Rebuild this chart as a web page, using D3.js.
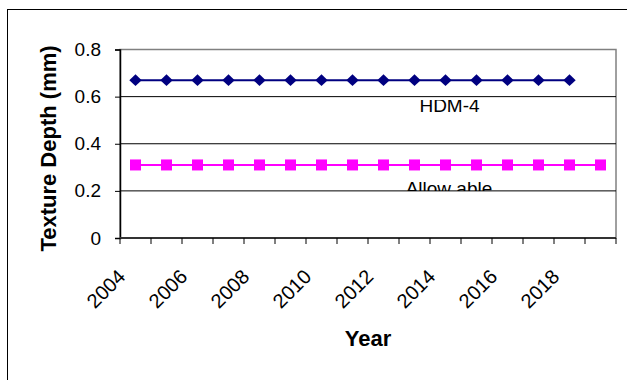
<!DOCTYPE html>
<html>
<head>
<meta charset="utf-8">
<script src="https://cdn.jsdelivr.net/npm/d3@7/dist/d3.min.js"></script>
<style>
  html, body { margin: 0; padding: 0; background: #fff; }
  svg { display: block; }
  text { font-family: Arial, "Liberation Sans", sans-serif; fill: #000; }
</style>
</head>
<body>
<svg id="chart" width="627" height="380"></svg>
<script>
// Years on the category axis
const years = [2004, 2005, 2006, 2007, 2008, 2009, 2010, 2011,
               2012, 2013, 2014, 2015, 2016, 2017, 2018, 2019];
// Texture depth (mm) predicted by HDM-4, 2004–2018
const hdm4 = [0.67, 0.67, 0.67, 0.67, 0.67, 0.67, 0.67, 0.67,
              0.67, 0.67, 0.67, 0.67, 0.67, 0.67, 0.67];
// Allowable texture depth (mm), 2004–2019
const allowable = [0.31, 0.31, 0.31, 0.31, 0.31, 0.31, 0.31, 0.31,
                   0.31, 0.31, 0.31, 0.31, 0.31, 0.31, 0.31, 0.31];
// Axis ticks and labelled years
const yTicks = [0, 0.2, 0.4, 0.6, 0.8];
const yearLabels = [2004, 2006, 2008, 2010, 2012, 2014, 2016, 2018];

const svg = d3.select("#chart");

// Outer chart frame (runs off the right and bottom edges)
svg.append("rect")
  .attr("x", 7.5).attr("y", 9.5)
  .attr("width", 700).attr("height", 450)
  .attr("fill", "#fff").attr("stroke", "#000").attr("stroke-width", 1);

const plot = { left: 120, right: 616, top: 49.5, bottom: 238 };

const x = d3.scaleBand()
  .domain(years)
  .range([plot.left, plot.right])
  .paddingInner(0).paddingOuter(0);

const y = d3.scaleLinear()
  .domain([0, 0.8])
  .range([plot.bottom, plot.top]);

const cx = d => x(d) + x.bandwidth() / 2;

// Plot area background and grey border
svg.append("rect")
  .attr("x", plot.left).attr("y", plot.top)
  .attr("width", plot.right - plot.left).attr("height", plot.bottom - plot.top)
  .attr("fill", "#fff").attr("stroke", "#808080").attr("stroke-width", 1.5);

// Horizontal gridlines
svg.append("g")
  .selectAll("line")
  .data(yTicks.filter(t => t > 0))
  .join("line")
  .attr("x1", plot.left).attr("x2", plot.right)
  .attr("y1", d => y(d)).attr("y2", d => y(d))
  .attr("stroke", d => d === 0.8 ? "#808080" : "#000")
  .attr("stroke-width", 1);

// Y axis
const yAxis = svg.append("g")
  .attr("transform", `translate(${plot.left},0)`)
  .call(d3.axisLeft(y).tickValues(yTicks).tickSize(5).tickPadding(14)
        .tickFormat(d => d === 0 ? "0" : d3.format(".1f")(d)));
yAxis.select(".domain").attr("stroke", "#000").attr("stroke-width", 1.5);
yAxis.selectAll(".tick line").attr("stroke", "#000");
yAxis.selectAll(".tick text")
  .attr("font-size", 19).attr("font-family", "Arial, 'Liberation Sans', sans-serif")
  .attr("fill", "#000");

// X axis line and category boundary ticks
const xg = svg.append("g");
xg.append("line")
  .attr("x1", plot.left).attr("x2", plot.right)
  .attr("y1", plot.bottom).attr("y2", plot.bottom)
  .attr("stroke", "#333").attr("stroke-width", 2);
const boundaries = years.map(d => x(d)).concat([x(years[years.length - 1]) + x.bandwidth()]);
xg.selectAll("line.tk")
  .data(boundaries)
  .join("line").attr("class", "tk")
  .attr("x1", d => d).attr("x2", d => d)
  .attr("y1", plot.bottom).attr("y2", plot.bottom + 6)
  .attr("stroke", "#000").attr("stroke-width", 1);

// Rotated year labels
xg.selectAll("text.yr")
  .data(yearLabels)
  .join("text").attr("class", "yr")
  .attr("transform", d => `translate(${cx(d) - 9},278) rotate(-45)`)
  .attr("text-anchor", "end")
  .attr("font-size", 20)
  .text(d => d);

// Series lines and markers
const line = d3.line().x((d, i) => cx(years[i])).y(d => y(d));

svg.append("path")
  .datum(hdm4)
  .attr("d", line)
  .attr("fill", "none").attr("stroke", "#000080").attr("stroke-width", 2);

svg.append("path")
  .datum(allowable)
  .attr("d", line)
  .attr("fill", "none").attr("stroke", "#FF00FF").attr("stroke-width", 2);

svg.append("g")
  .selectAll("path")
  .data(hdm4)
  .join("path")
  .attr("transform", (d, i) => `translate(${cx(years[i])},${y(d)})`)
  .attr("d", "M0,-5.8L6.2,0L0,5.8L-6.2,0Z")
  .attr("fill", "#000080");

svg.append("g")
  .selectAll("rect")
  .data(allowable)
  .join("rect")
  .attr("x", (d, i) => cx(years[i]) - 5.5)
  .attr("y", d => y(d) - 5.5)
  .attr("width", 11).attr("height", 11)
  .attr("fill", "#FF00FF");

// Series name labels, cut off at the neighbouring gridlines
const defs = svg.append("defs");
defs.append("clipPath").attr("id", "clipHdm")
  .append("rect").attr("x", 0).attr("y", 100).attr("width", 627).attr("height", 40);
defs.append("clipPath").attr("id", "clipAllow")
  .append("rect").attr("x", 0).attr("y", 150).attr("width", 627).attr("height", 41);

svg.append("text")
  .attr("x", 449.5).attr("y", 112)
  .attr("text-anchor", "middle")
  .attr("font-size", 19)
  .attr("clip-path", "url(#clipHdm)")
  .text("HDM-4");

svg.append("text")
  .attr("x", 449).attr("y", 194.5)
  .attr("text-anchor", "middle")
  .attr("font-size", 19)
  .attr("clip-path", "url(#clipAllow)")
  .text("Allow able");

// Axis titles
svg.append("text")
  .attr("x", 368).attr("y", 346)
  .attr("text-anchor", "middle")
  .attr("font-size", 22).attr("font-weight", "bold")
  .text("Year");

svg.append("text")
  .attr("transform", "translate(56,148.5) rotate(-90)")
  .attr("text-anchor", "middle")
  .attr("font-size", 22).attr("font-weight", "bold")
  .text("Texture Depth (mm)");
</script>
</body>
</html>
